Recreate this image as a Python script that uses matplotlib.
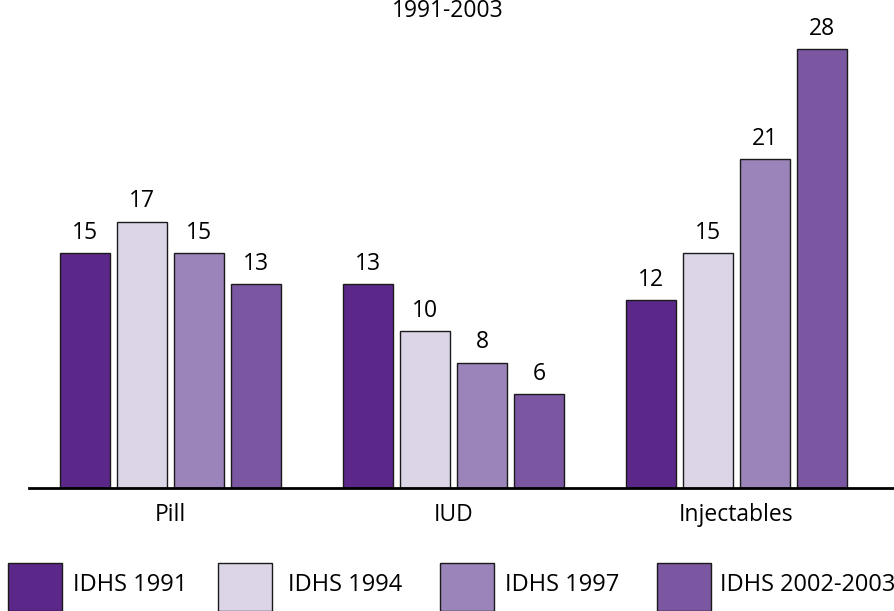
import numpy as np
import matplotlib.pyplot as plt

plt.rcParams.update({
    "font.family": ["Open Sans", "DejaVu Sans"],
    "font.size": 17,
})

categories = ["Pill", "IUD", "Injectables"]
series = ["IDHS 1991", "IDHS 1994", "IDHS 1997", "IDHS 2002-2003"]
values = {
    "IDHS 1991": [15, 13, 12],
    "IDHS 1994": [17, 10, 15],
    "IDHS 1997": [15, 8, 21],
    "IDHS 2002-2003": [13, 6, 28],
}
colors = ["#5B288A", "#DCD5E8", "#9B84BA", "#7B57A2"]

W, H = 895, 611
fig = plt.figure(figsize=(W / 100, H / 100), dpi=100)
base_px = 488
ax = fig.add_axes([29 / W, (H - base_px) / H, 1 - 29 / W, base_px / H])

x = np.arange(len(categories))
width = 0.18
step = 0.2014
for i, s in enumerate(series):
    pos = x + (i - 1.5) * step
    bars = ax.bar(pos, values[s], width, color=colors[i], edgecolor="#1a1a1a",
                  linewidth=1.0, label=s)
    for b, v in zip(bars, values[s]):
        ax.annotate(str(v), (b.get_x() + b.get_width() / 2, v),
                    textcoords="offset points", xytext=(0, 6),
                    ha="center", va="bottom", fontsize=16.5)

ax.set_xlim(-0.5, 2.56)
ax.set_ylim(0, base_px / 15.67)
for sp in ["top", "right", "left"]:
    ax.spines[sp].set_visible(False)
ax.spines["bottom"].set_linewidth(2)
ax.set_yticks([])
ax.set_xticks(x)
ax.set_xticklabels(categories, fontsize=16.5)
ax.tick_params(axis="x", length=0, pad=11)

fig.text(448 / W, 1 - 11 / H, "1991-2003", ha="center", va="center", fontsize=16.5)

# legend drawn as patches along the bottom
leg_sq_x = [8, 218, 440, 657]
leg_tx_x = [73, 288, 505, 720]
for i, s in enumerate(series):
    fig.patches.append(plt.Rectangle((leg_sq_x[i] / W, 0), 54 / W, 48 / H,
                                     transform=fig.transFigure,
                                     facecolor=colors[i], edgecolor="#1a1a1a",
                                     linewidth=1.0))
    fig.text(leg_tx_x[i] / W, 1 - 585 / H, s, ha="left", va="center", fontsize=17)

fig.savefig("out.png", dpi=100, facecolor="white")
